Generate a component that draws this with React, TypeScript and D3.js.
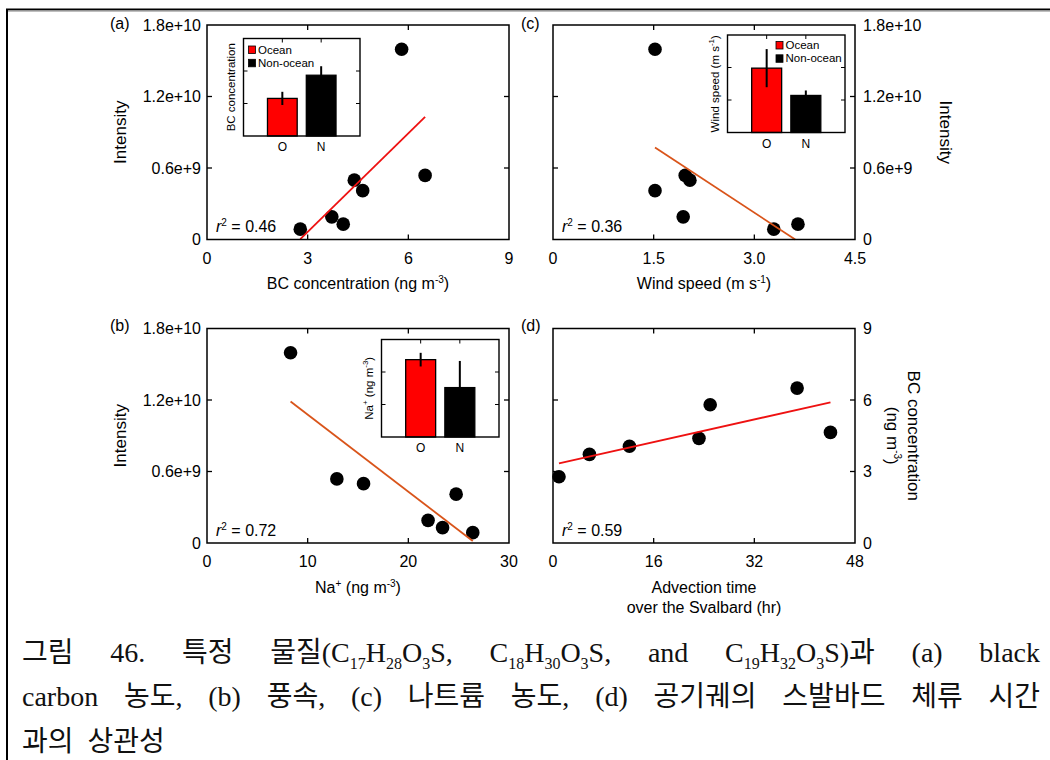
import React, { useLayoutEffect, useRef, useState } from "react";
import * as d3 from "d3";

// Seven samples shared by every panel (intensity in units of 1e10)
const sampleIntensity = [1.596, 0.538, 0.498, 0.41, 0.19, 0.129, 0.087];
const sampleBC = [5.8, 6.5, 4.39, 4.64, 3.72, 4.06, 2.78];
const sampleWind = [1.52, 1.97, 2.04, 1.52, 1.94, 3.65, 3.29];
const sampleNa = [8.3, 12.9, 15.55, 24.75, 21.96, 23.4, 26.4];
const sampleAdvection = [24.98, 38.8, 23.2, 44.1, 5.79, 12.15, 0.95];

// Axis ticks
const intensityTicks = [0, 0.6, 1.2, 1.8];
const intensityTickLabels = ["0", "0.6e+9", "1.2e+10", "1.8e+10"];
const bcTicks = [0, 3, 6, 9];
const bcTickLabels = ["0", "3", "6", "9"];
const windTicks = [0, 1.5, 3.0, 4.5];
const windTickLabels = ["0", "1.5", "3.0", "4.5"];
const naTicks = [0, 10, 20, 30];
const naTickLabels = ["0", "10", "20", "30"];
const advTicks = [0, 16, 32, 48];
const advTickLabels = ["0", "16", "32", "48"];

// Inset bar charts: ocean vs non-ocean air masses
const groups = ["O", "N"];
const groupNames = ["Ocean", "Non-ocean"];
const groupColors = ["#ff0000", "#000000"];
const insetBCMean = [3.47, 5.61];
const insetBCErr = [0.61, 0.83];
const insetBCTicks = [3, 6];
const insetWindMean = [2.97, 1.71];
const insetWindErr = [0.88, 0.23];
const insetWindTicks = [1.5, 3.0];
const insetNaMean = [23.8, 15.2];
const insetNaErr = [2.1, 8.2];
const insetNaTicks = [10, 20];

// Coefficients of determination printed in each panel
const r2BC = "0.46";
const r2Na = "0.72";
const r2Wind = "0.36";
const r2Adv = "0.59";

// Caption (Korean, with chemical formulas)
type Seg = { t: string; sub?: boolean };
const captionLine1: Seg[][] = [
  [{ t: "그림" }],
  [{ t: "46." }],
  [{ t: "특정" }],
  [{ t: "물질(C" }, { t: "17", sub: true }, { t: "H" }, { t: "28", sub: true }, { t: "O" }, { t: "3", sub: true }, { t: "S," }],
  [{ t: "C" }, { t: "18", sub: true }, { t: "H" }, { t: "30", sub: true }, { t: "O" }, { t: "3", sub: true }, { t: "S," }],
  [{ t: "and" }],
  [{ t: "C" }, { t: "19", sub: true }, { t: "H" }, { t: "32", sub: true }, { t: "O" }, { t: "3", sub: true }, { t: "S)과" }],
  [{ t: "(a)" }],
  [{ t: "black" }],
];
const captionLine2: Seg[][] = ["carbon", "농도,", "(b)", "풍속,", "(c)", "나트륨", "농도,", "(d)", "공기궤의", "스발바드", "체류", "시간"].map((t) => [{ t }]);
const captionLine3: Seg[][] = ["과의", "상관성"].map((t) => [{ t }]);

const FONT = "'Liberation Sans', Arial, Helvetica, sans-serif";
const CAPTION_FONT = "'Liberation Serif', 'Noto Sans CJK KR', serif";
const PW = 302;
const PH = 214.5;
const TICK = 5;

function fitLine(xs: number[], ys: number[]) {
  const mx = d3.mean(xs)!;
  const my = d3.mean(ys)!;
  let sxy = 0;
  let sxx = 0;
  xs.forEach((v, i) => {
    sxy += (v - mx) * (ys[i] - my);
    sxx += (v - mx) * (v - mx);
  });
  const m = sxy / sxx;
  return { m, b: my - m * mx };
}

const Sup = ({ t, size = 10, shift = 6 }: { t: string; size?: number; shift?: number }) => (
  <tspan dy={-shift} fontSize={size}>
    {t}
  </tspan>
);

type ScatterProps = {
  x0: number;
  y0: number;
  xDomain: [number, number];
  xTicks: number[];
  xTickLabels: string[];
  yDomain: [number, number];
  yTicks: number[];
  yTickLabels: string[];
  ySide: "left" | "right";
  xs: number[];
  ys: number[];
  lineColor: string;
  r2: string;
};

function Scatter(p: ScatterProps) {
  const x = d3.scaleLinear().domain(p.xDomain).range([p.x0, p.x0 + PW]);
  const y = d3.scaleLinear().domain(p.yDomain).range([p.y0 + PH, p.y0]);
  const { m, b } = fitLine(p.xs, p.ys);
  let xa = d3.min(p.xs)!;
  let xb = d3.max(p.xs)!;
  const xz = -b / m;
  if (m * xa + b < 0) xa = xz;
  if (m * xb + b < 0) xb = xz;
  const line = d3
    .line<number>()
    .x((v) => x(v))
    .y((v) => y(m * v + b));
  const innerX = p.xTicks.filter((t) => t > p.xDomain[0] && t < p.xDomain[1]);
  const innerY = p.yTicks.filter((t) => t > p.yDomain[0] && t < p.yDomain[1]);
  const bottom = p.y0 + PH;
  const right = p.x0 + PW;
  return (
    <g>
      {p.xs.map((v, i) => (
        <circle key={i} cx={x(v)} cy={y(p.ys[i])} r={6.8} fill="#000" />
      ))}
      <path d={line([xa, xb]) ?? ""} stroke={p.lineColor} strokeWidth={1.8} fill="none" />
      <rect x={p.x0} y={p.y0} width={PW} height={PH} fill="none" stroke="#000" strokeWidth={1.5} />
      {innerX.map((t) => (
        <g key={"x" + t} stroke="#000" strokeWidth={1.3}>
          <line x1={x(t)} x2={x(t)} y1={bottom} y2={bottom - TICK} />
          <line x1={x(t)} x2={x(t)} y1={p.y0} y2={p.y0 + TICK} />
        </g>
      ))}
      {innerY.map((t) => (
        <g key={"y" + t} stroke="#000" strokeWidth={1.3}>
          <line x1={p.x0} x2={p.x0 + TICK} y1={y(t)} y2={y(t)} />
          <line x1={right} x2={right - TICK} y1={y(t)} y2={y(t)} />
        </g>
      ))}
      <g fontSize={16} fill="#000">
        {p.xTicks.map((t, i) => (
          <text key={"xl" + t} x={x(t)} y={bottom + 24} textAnchor="middle">
            {p.xTickLabels[i]}
          </text>
        ))}
        {p.yTicks.map((t, i) =>
          p.ySide === "left" ? (
            <text key={"yl" + t} x={p.x0 - 6} y={y(t) + 5.5} textAnchor="end">
              {p.yTickLabels[i]}
            </text>
          ) : (
            <text key={"yl" + t} x={right + 8} y={y(t) + 5.5} textAnchor="start">
              {p.yTickLabels[i]}
            </text>
          )
        )}
        <text x={p.x0 + 9} y={bottom - 7.5}>
          <tspan fontStyle="italic">r</tspan>
          <Sup t="2" size={10} shift={6} />
          <tspan dy={6}>{" = " + p.r2}</tspan>
        </text>
      </g>
    </g>
  );
}

type InsetProps = {
  x: number;
  y: number;
  w: number;
  h: number;
  domain: [number, number];
  ticks: number[];
  means: number[];
  errs: number[];
  title: React.ReactNode;
  legend?: { dx: number; dy: number };
};

function Inset(p: InsetProps) {
  const xs = d3.scalePoint<string>().domain(groups).range([p.x, p.x + p.w]).padding(1);
  const ys = d3.scaleLinear().domain(p.domain).range([p.y + p.h, p.y]);
  const bw = p.w * 0.255;
  const base = p.y + p.h;
  return (
    <g>
      <rect x={p.x} y={p.y} width={p.w} height={p.h} fill="#fff" stroke="none" />
      {groups.map((g, i) => (
        <rect
          key={g}
          x={xs(g)! - bw / 2}
          y={ys(p.means[i])}
          width={bw}
          height={base - ys(p.means[i])}
          fill={groupColors[i]}
          stroke="#000"
          strokeWidth={1.3}
        />
      ))}
      {groups.map((g, i) => (
        <line
          key={"e" + g}
          x1={xs(g)!}
          x2={xs(g)!}
          y1={ys(p.means[i] - p.errs[i])}
          y2={ys(p.means[i] + p.errs[i])}
          stroke="#000"
          strokeWidth={2}
        />
      ))}
      <rect x={p.x} y={p.y} width={p.w} height={p.h} fill="none" stroke="#000" strokeWidth={1.4} />
      {p.ticks.map((t) => (
        <g key={t} stroke="#000" strokeWidth={1}>
          <line x1={p.x} x2={p.x + 4} y1={ys(t)} y2={ys(t)} />
          <line x1={p.x + p.w} x2={p.x + p.w - 4} y1={ys(t)} y2={ys(t)} />
        </g>
      ))}
      {groups.map((g) => (
        <line key={"t" + g} x1={xs(g)!} x2={xs(g)!} y1={p.y} y2={p.y + 4} stroke="#000" strokeWidth={1} />
      ))}
      <g fontSize={12} fill="#000">
        {groups.map((g) => (
          <text key={"l" + g} x={xs(g)!} y={base + 15} textAnchor="middle">
            {g}
          </text>
        ))}
        <text
          transform={`translate(${p.x - 12.5},${p.y + p.h / 2}) rotate(-90)`}
          textAnchor="middle"
          dominantBaseline="central"
          fontSize={11.5}
        >
          {p.title}
        </text>
      </g>
      {p.legend && (
        <g fontSize={11.5}>
          {groupNames.map((n, i) => (
            <g key={n} transform={`translate(${p.x + p.legend!.dx},${p.y + p.legend!.dy + i * 13.3})`}>
              <rect x={0} y={0} width={7} height={7.5} fill={groupColors[i]} stroke="#000" strokeWidth={0.8} />
              <text x={9.5} y={7.5}>
                {n}
              </text>
            </g>
          ))}
        </g>
      )}
    </g>
  );
}

const CAP_L = 22;
const CAP_R = 1040;

function Word({ segs }: { segs: Seg[] }) {
  let shifted = false;
  return (
    <>
      {segs.map((s, i) => {
        const dy = s.sub ? (shifted ? 0 : 7) : shifted ? -7 : 0;
        shifted = !!s.sub;
        return (
          <tspan key={i} dy={dy} fontSize={s.sub ? 16 : undefined}>
            {s.t}
          </tspan>
        );
      })}
    </>
  );
}

function CaptionLine({ words, y, justify }: { words: Seg[][]; y: number; justify: boolean }) {
  const refs = useRef<(SVGTextElement | null)[]>([]);
  const [pos, setPos] = useState<number[] | null>(null);
  useLayoutEffect(() => {
    const widths = words.map((_, i) => refs.current[i]?.getComputedTextLength() ?? 0);
    const total = d3.sum(widths);
    const gap = justify ? (CAP_R - CAP_L - total) / (words.length - 1) : 14;
    const out: number[] = [];
    let cx = CAP_L;
    widths.forEach((w) => {
      out.push(cx);
      cx += w + gap;
    });
    setPos(out);
  }, [words, justify]);
  return (
    <g>
      {words.map((w, i) => (
        <text
          key={i}
          ref={(el) => {
            refs.current[i] = el;
          }}
          x={pos ? pos[i] : CAP_L + i * 80}
          y={y}
        >
          <Word segs={w} />
        </text>
      ))}
    </g>
  );
}

export default function App() {
  const ax = 207;
  const cx = 553;
  const topY = 25;
  const botY = 328.5;
  return (
    <svg
      width={1050}
      height={760}
      viewBox="0 0 1050 760"
      style={{ position: "absolute", left: 0, top: 0, background: "#fff" }}
      fontFamily={FONT}
    >
      <rect width={1050} height={760} fill="#fff" />
      {/* page frame */}
      <line x1={6} x2={1050} y1={9.5} y2={9.5} stroke="#000" strokeWidth={2} />
      <line x1={6} x2={1050} y1={11.2} y2={11.2} stroke="#aaa" strokeWidth={1.2} />
      <line x1={7} x2={7} y1={9} y2={760} stroke="#000" strokeWidth={2} />

      {/* (a) intensity vs BC */}
      <Scatter
        x0={ax}
        y0={topY}
        xDomain={[0, 9]}
        xTicks={bcTicks}
        xTickLabels={bcTickLabels}
        yDomain={[0, 1.8]}
        yTicks={intensityTicks}
        yTickLabels={intensityTickLabels}
        ySide="left"
        xs={sampleBC}
        ys={sampleIntensity}
        lineColor="#ee1111"
        r2={r2BC}
      />
      <Inset
        x={243.5}
        y={38.5}
        w={116.5}
        h={97.5}
        domain={[0, 9]}
        ticks={insetBCTicks}
        means={insetBCMean}
        errs={insetBCErr}
        title="BC concentration"
        legend={{ dx: 5, dy: 7.5 }}
      />

      {/* (c) intensity vs wind speed */}
      <Scatter
        x0={cx}
        y0={topY}
        xDomain={[0, 4.5]}
        xTicks={windTicks}
        xTickLabels={windTickLabels}
        yDomain={[0, 1.8]}
        yTicks={intensityTicks}
        yTickLabels={intensityTickLabels}
        ySide="right"
        xs={sampleWind}
        ys={sampleIntensity}
        lineColor="#d9541a"
        r2={r2Wind}
      />
      <Inset
        x={727.5}
        y={35}
        w={117.5}
        h={97.5}
        domain={[0, 4.5]}
        ticks={insetWindTicks}
        means={insetWindMean}
        errs={insetWindErr}
        title={
          <>
            <tspan>Wind speed (m s</tspan>
            <Sup t="-1" size={8} shift={4} />
            <tspan dy={4}>)</tspan>
          </>
        }
        legend={{ dx: 48.5, dy: 6.5 }}
      />

      {/* (b) intensity vs Na+ */}
      <Scatter
        x0={ax}
        y0={botY}
        xDomain={[0, 30]}
        xTicks={naTicks}
        xTickLabels={naTickLabels}
        yDomain={[0, 1.8]}
        yTicks={intensityTicks}
        yTickLabels={intensityTickLabels}
        ySide="left"
        xs={sampleNa}
        ys={sampleIntensity}
        lineColor="#d9541a"
        r2={r2Na}
      />
      <Inset
        x={381.5}
        y={339.5}
        w={117.5}
        h={97.5}
        domain={[0, 30]}
        ticks={insetNaTicks}
        means={insetNaMean}
        errs={insetNaErr}
        title={
          <>
            <tspan>Na</tspan>
            <Sup t="+" size={8} shift={4} />
            <tspan dy={4}> (ng m</tspan>
            <Sup t="-3" size={8} shift={4} />
            <tspan dy={4}>)</tspan>
          </>
        }
      />

      {/* (d) BC vs advection time */}
      <Scatter
        x0={cx}
        y0={botY}
        xDomain={[0, 48]}
        xTicks={advTicks}
        xTickLabels={advTickLabels}
        yDomain={[0, 9]}
        yTicks={bcTicks}
        yTickLabels={bcTickLabels}
        ySide="right"
        xs={sampleAdvection}
        ys={sampleBC}
        lineColor="#ee1111"
        r2={r2Adv}
      />

      {/* panel tags and axis titles */}
      <g fontSize={16} fill="#000">
        <text x={110} y={29}>(a)</text>
        <text x={521} y={29}>(c)</text>
        <text x={110} y={331}>(b)</text>
        <text x={521} y={331}>(d)</text>

        <text x={ax + PW / 2} y={topY + PH + 49} textAnchor="middle">
          BC concentration (ng m<Sup t="-3" size={10} shift={6} />
          <tspan dy={6}>)</tspan>
        </text>
        <text x={cx + PW / 2} y={topY + PH + 49} textAnchor="middle">
          Wind speed (m s<Sup t="-1" size={10} shift={6} />
          <tspan dy={6}>)</tspan>
        </text>
        <text x={ax + PW / 2} y={botY + PH + 50} textAnchor="middle">
          Na<Sup t="+" size={10} shift={6} />
          <tspan dy={6}> (ng m</tspan>
          <Sup t="-3" size={10} shift={6} />
          <tspan dy={6}>)</tspan>
        </text>
        <text x={cx + PW / 2} y={botY + PH + 50} textAnchor="middle">
          Advection time
        </text>
        <text x={cx + PW / 2} y={botY + PH + 70} textAnchor="middle">
          over the Svalbard (hr)
        </text>

        <g fontSize={17}>
          <text transform={`translate(120,${topY + PH / 2}) rotate(-90)`} textAnchor="middle" dominantBaseline="central">
            Intensity
          </text>
          <text transform={`translate(120,${botY + PH / 2}) rotate(-90)`} textAnchor="middle" dominantBaseline="central">
            Intensity
          </text>
          <text transform={`translate(945,${topY + PH / 2}) rotate(90)`} textAnchor="middle" dominantBaseline="central">
            Intensity
          </text>
          <text transform={`translate(913,${botY + PH / 2}) rotate(90)`} textAnchor="middle" dominantBaseline="central">
            BC concentration
          </text>
          <text transform={`translate(892,${botY + PH / 2}) rotate(90)`} textAnchor="middle" dominantBaseline="central">
            (ng m<Sup t="-3" size={10} shift={6} />
            <tspan dy={6}>)</tspan>
          </text>
        </g>
      </g>

      {/* caption */}
      <g fontFamily={CAPTION_FONT} fontSize={28} fill="#111">
        <CaptionLine words={captionLine1} y={662} justify={true} />
        <CaptionLine words={captionLine2} y={706} justify={true} />
        <CaptionLine words={captionLine3} y={751} justify={false} />
      </g>
    </svg>
  );
}
